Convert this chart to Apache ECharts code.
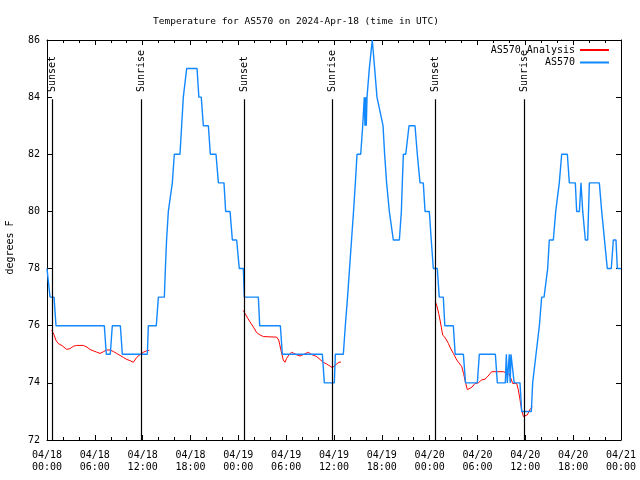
<!DOCTYPE html>
<html><head><meta charset="utf-8">
<script src="https://cdn.jsdelivr.net/npm/echarts@6/dist/echarts.min.js"></script>
<style>html,body{margin:0;padding:0;background:#fff}#c{width:640px;height:480px}</style>
</head><body><div id="c"></div>
<script>
const FONT = "'DejaVu Sans Mono', 'Liberation Mono', monospace";
const titleText = 'Temperature for AS570 on 2024-Apr-18 (time in UTC)';
const yAxisName = 'degrees F';
// x positions are hours since 2024-04-18 00:00 UTC
const xTickLabels = ['04/18\n00:00','04/18\n06:00','04/18\n12:00','04/18\n18:00',
  '04/19\n00:00','04/19\n06:00','04/19\n12:00','04/19\n18:00',
  '04/20\n00:00','04/20\n06:00','04/20\n12:00','04/20\n18:00','04/21\n00:00'];
const seriesNames = ['AS570 Analysis', 'AS570'];

// null entries mark gaps (no analysis during daytime)
const analysisHours = [0.59,0.9,1.1,1.4,1.9,2.47,2.9,3.3,3.72,4.56,5.0,5.4,5.8,6.2,6.65,7.07,7.49,7.9,8.3,8.74,9.16,9.58,10.0,10.4,10.83,11.25,11.67,12.08,12.5,12.84,
  18,
  24.63,24.9,25.2,25.59,25.9,26.3,26.7,27.14,28.81,29.06,29.2,29.44,29.64,29.85,30.06,30.4,30.69,30.98,31.32,31.74,32.15,32.78,33.2,33.83,34.24,34.66,35.08,35.49,35.79,36.04,36.33,36.62,36.88,
  42,
  48.71,48.9,49.13,49.3,49.46,49.63,49.9,50.35,50.6,50.97,51.4,52.02,52.25,52.52,52.73,52.98,53.3,53.69,54.1,54.5,54.94,55.2,55.78,57.24,57.6,58.0,58.41,58.91,59.12,59.3,59.54,59.76,59.96,60.25,60.55,60.88];
const analysisValues = [75.85,75.67,75.5,75.38,75.3,75.17,75.2,75.28,75.31,75.31,75.25,75.17,75.12,75.08,75.03,75.09,75.15,75.15,75.1,75.03,74.96,74.89,74.82,74.78,74.72,74.89,74.99,75.07,75.12,75.14,
  null,
  76.53,76.4,76.25,76.08,75.95,75.76,75.68,75.62,75.6,75.5,75.33,75.03,74.8,74.72,74.86,75.0,75.07,75.03,74.98,74.94,74.99,75.07,74.99,74.92,74.82,74.72,74.66,74.59,74.53,74.56,74.66,74.72,74.73,
  null,
  76.84,76.7,76.43,76.2,75.95,75.67,75.6,75.38,75.22,75.03,74.8,74.57,74.33,73.98,73.76,73.73,73.85,73.98,74.0,74.1,74.13,74.2,74.39,74.39,74.35,74.3,73.98,73.98,73.76,73.46,73.05,72.82,72.76,72.88,73.05,73.17];

const stationHours = [0.0,0.17,0.38,0.88,1.13,7.19,7.44,7.94,8.19,9.2,9.45,12.59,12.71,13.71,13.97,14.72,14.85,15.0,15.22,15.47,15.72,15.97,16.68,16.89,17.1,17.52,18.82,19.05,19.35,19.61,20.24,20.49,21.2,21.5,22.2,22.41,22.96,23.25,23.79,24.12,24.63,24.75,26.51,26.68,29.27,29.52,34.54,34.79,36.04,36.17,37.17,37.42,37.7,37.95,38.2,38.45,38.68,38.89,39.35,39.6,39.72,39.8,39.88,39.97,40.05,40.14,40.22,40.43,40.8,40.97,41.1,41.39,41.6,42.15,42.35,42.6,42.94,43.19,43.44,44.2,44.45,44.57,44.7,45.0,45.41,46.16,46.45,46.79,47.2,47.42,47.96,48.2,48.46,48.96,49.2,49.71,49.9,50.97,51.2,52.23,52.5,53.98,54.23,56.24,56.49,57.49,57.62,57.74,57.87,57.99,58.1,58.2,58.45,58.6,59.33,59.54,60.75,60.92,61.1,61.34,61.5,61.76,62.05,62.35,62.8,63.01,63.51,63.81,63.97,64.26,64.4,64.56,65.27,65.52,66.27,66.44,66.78,66.98,67.08,67.2,67.53,67.82,68.03,69.28,69.58,69.75,70.28,70.78,71.04,71.37,71.54,72.0];
const stationValues = [78,78,77,77,76,76,75,75,76,76,75,75,76,76,77,77,78,79,80,80,81,82,82,83,84,85,85,84,84,83,83,82,82,81,81,80,80,79,79,78,78,77,77,76,76,75,75,74,74,75,75,76,77,78,79,80,81,82,82,83,83,84,83,84,83,84,84,85,86,86,85,84,84,83,82,81,80,80,79,79,80,81,82,82,83,83,82,81,81,80,80,79,78,78,77,77,76,76,75,75,74,74,75,75,74,74,75,74,74,75,74,75,75,74,74,73,73,74,74,75,75,76,77,77,78,79,79,80,80,81,81,82,82,81,81,80,80,81,81,80,79,79,81,81,80,80,78,78,79,79,78,78];

const sunEventNames = ['Sunset','Sunrise','Sunset','Sunrise','Sunset','Sunrise'];
const sunEventHours = [0.66, 11.83, 24.75, 35.79, 48.71, 59.87];

const yMin = 72, yMax = 86, yInterval = 2;
const xMin = 0, xMax = 72, xInterval = 6;
const sunLineTop = 83.93, sunLabelBase = 84.18;

const pair = (xs, ys) => xs.map((x, i) => [x, ys[i] === null ? '-' : ys[i]]);

const sunData = [];
sunEventHours.forEach((h, i) => {
  sunData.push([{coord: [h, yMin], label: {show: false}}, {coord: [h, sunLineTop]}]);
  sunData.push([{coord: [h, sunLabelBase], name: sunEventNames[i], lineStyle: {color: 'rgba(0,0,0,0)'},
    label: {show: true, position: 'insideStart', formatter: '{b}', distance: 0,
      fontFamily: FONT, fontSize: 10, color: '#000'}}, {coord: [h, yMax]}]);
});

const axisCommon = {
  type: 'value', axisLine: {show: true, onZero: false, lineStyle: {color: '#000', width: 1}},
  axisTick: {show: true, inside: true, length: 5, lineStyle: {color: '#000'}},
  splitLine: {show: false}
};

const chart = echarts.init(document.getElementById('c'), null, {renderer: 'canvas'});
chart.setOption({
  animation: false,
  backgroundColor: '#fff',
  title: {text: titleText, left: 148, top: 12,
    textStyle: {fontFamily: FONT, fontSize: 9.5, fontWeight: 'normal', color: '#000'}},
  legend: {orient: 'vertical', align: 'right', right: 25, top: 40, itemWidth: 29, itemHeight: 10, itemGap: 2.5,
    data: seriesNames, itemStyle: {opacity: 0},
    textStyle: {fontFamily: FONT, fontSize: 10, color: '#000'}},
  grid: {left: 47, right: 19, top: 40, bottom: 40, containLabel: false, outerBoundsMode: 'none'},
  xAxis: [
    Object.assign({}, axisCommon, {min: xMin, max: xMax, interval: xInterval, position: 'bottom',
      minorTick: {show: true, splitNumber: 3, length: 3, lineStyle: {color: '#000'}},
      axisLabel: {show: true, margin: 9, fontFamily: FONT, fontSize: 10, lineHeight: 12, color: '#000',
        formatter: v => xTickLabels[Math.round((v - xMin) / xInterval)]}}),
    Object.assign({}, axisCommon, {min: xMin, max: xMax, interval: xInterval, position: 'top',
      minorTick: {show: true, splitNumber: 3, length: 3, lineStyle: {color: '#000'}},
      axisLabel: {show: false}})
  ],
  yAxis: [
    Object.assign({}, axisCommon, {min: yMin, max: yMax, interval: yInterval, position: 'left',
      name: yAxisName, nameLocation: 'middle', nameRotate: 90, nameGap: 32,
      nameTextStyle: {fontFamily: FONT, fontSize: 10, color: '#000', padding: [0, 15, 0, 0]},
      axisLabel: {show: true, margin: 7, fontFamily: FONT, fontSize: 10, color: '#000'}}),
    Object.assign({}, axisCommon, {min: yMin, max: yMax, interval: yInterval, position: 'right',
      axisLabel: {show: false}})
  ],
  series: [
    {name: seriesNames[0], type: 'line', xAxisIndex: 0, yAxisIndex: 0, data: pair(analysisHours, analysisValues),
      symbol: 'none', connectNulls: false, lineStyle: {color: '#ff0000', width: 1}, itemStyle: {color: '#ff0000'}, z: 2,
      markLine: {silent: true, symbol: ['none', 'none'], animation: false,
        lineStyle: {color: '#000', width: 1.2, type: 'solid'}, label: {show: false}, data: sunData}},
    {name: seriesNames[1], type: 'line', xAxisIndex: 0, yAxisIndex: 0, data: pair(stationHours, stationValues),
      symbol: 'none', lineStyle: {color: '#1188ff', width: 1.4}, itemStyle: {color: '#1188ff'}, z: 3}
  ]
});
</script></body></html>
